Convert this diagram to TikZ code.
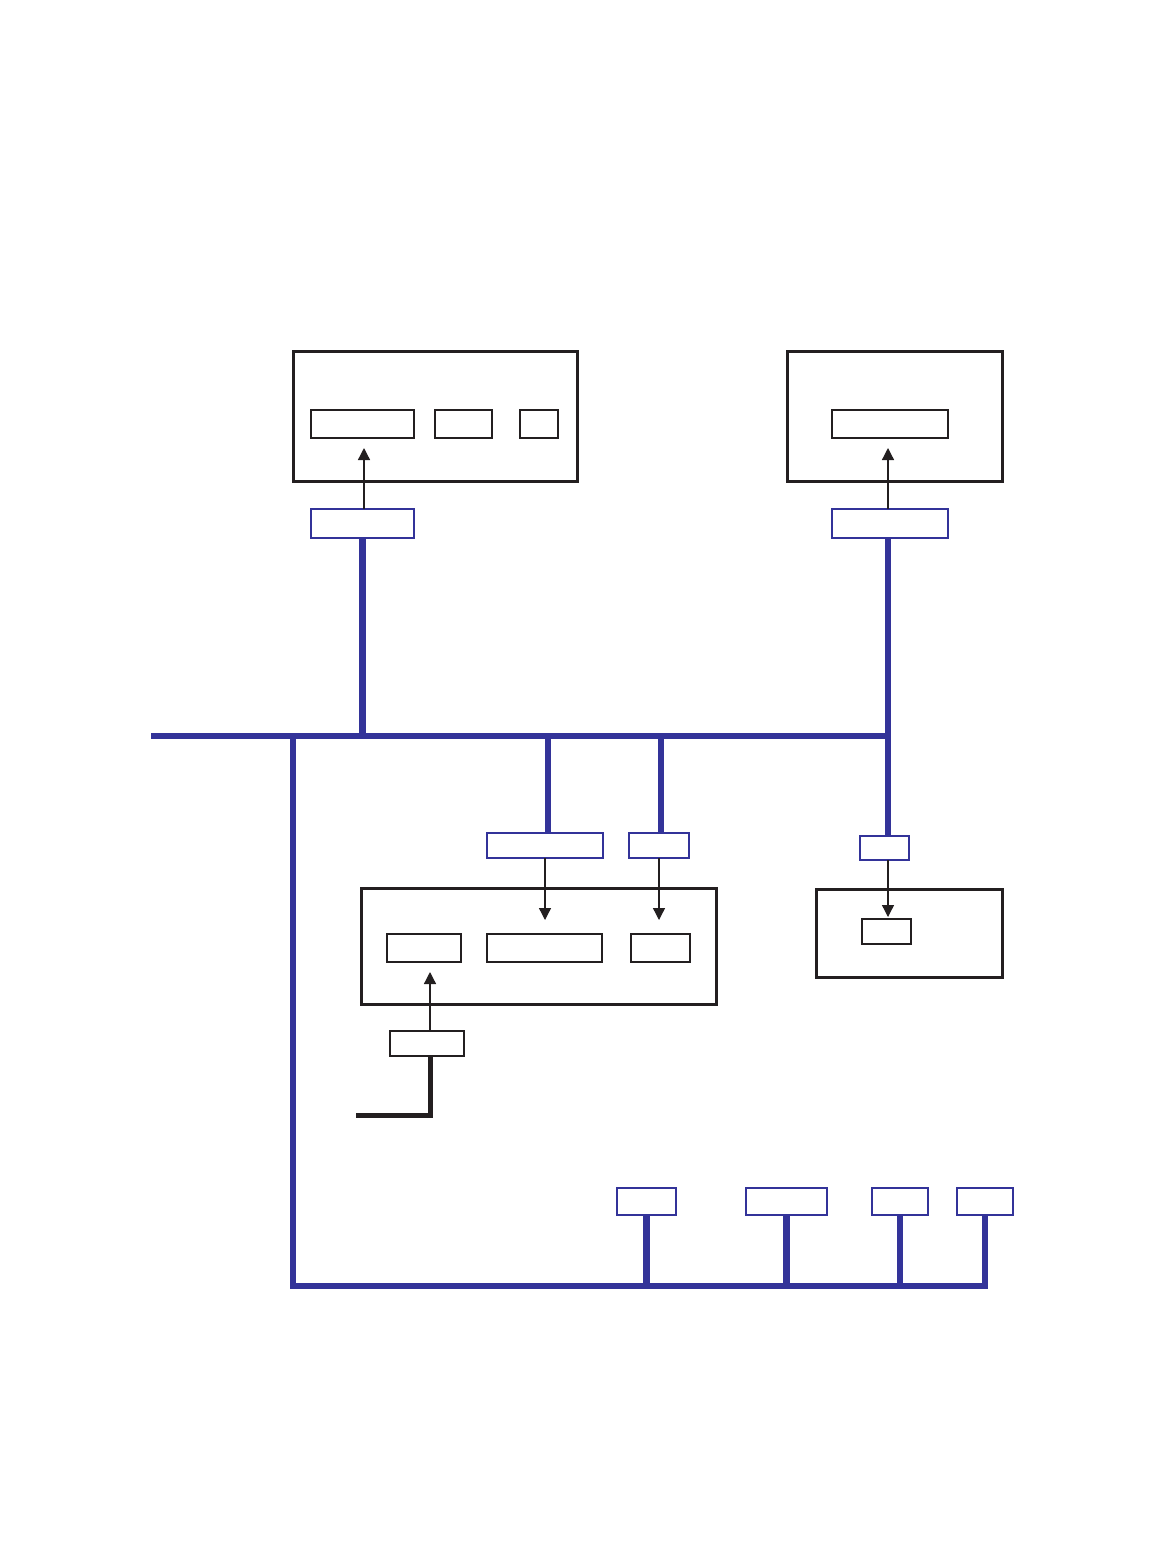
\documentclass[tikz,border=0pt]{standalone}
\usetikzlibrary{arrows.meta}
\definecolor{netblue}{HTML}{333399}
\definecolor{netink}{HTML}{231F20}

\begin{document}
\begin{tikzpicture}[
  x=1pt,
  y=-1pt,
  >={Triangle[width=12pt,length=12pt]},
  unit/.style={draw=netink, line width=3pt, inner sep=0pt, outer sep=0pt, line join=miter},
  slot/.style={draw=netink, line width=2pt, inner sep=0pt, outer sep=0pt},
  tap/.style={draw=netblue, line width=1.7pt, inner sep=0pt, outer sep=0pt},
  plug/.style={draw=netink, line width=1.7pt, inner sep=0pt, outer sep=0pt},
  bus/.style={netblue, line width=6.5pt, line join=miter},
  cable/.style={netink, line width=5pt, line join=miter},
  feed/.style={netink, line width=1.3pt, ->}
]
  \useasboundingbox (0,0) rectangle (1158,1559);

  % upper left unit
  \node[unit, minimum width=284pt, minimum height=130pt] (unitA) at (435,416) {};
  \node[slot, minimum width=103pt, minimum height=28pt] (slotA1) at (362.5,424) {};
  \node[slot, minimum width=57pt, minimum height=28pt] (slotA2) at (463.5,424) {};
  \node[slot, minimum width=38pt, minimum height=28pt] (slotA3) at (539,424) {};
  \node[tap, minimum width=103pt, minimum height=29pt] (tapA) at (362.5,523.5) {};

  % upper right unit
  \node[unit, minimum width=215pt, minimum height=130pt] (unitB) at (894.5,416) {};
  \node[slot, minimum width=116pt, minimum height=28pt] (slotB) at (890,424) {};
  \node[tap, minimum width=116pt, minimum height=29pt] (tapB) at (890,523.5) {};

  % middle unit
  \node[unit, minimum width=355pt, minimum height=116pt] (unitC) at (538.5,946) {};
  \node[slot, minimum width=74pt, minimum height=28pt] (slotC1) at (424,948) {};
  \node[slot, minimum width=115pt, minimum height=28pt] (slotC2) at (544.5,948) {};
  \node[slot, minimum width=59pt, minimum height=28pt] (slotC3) at (660.5,948) {};
  \node[tap, minimum width=116pt, minimum height=25pt] (tapC1) at (545,845.5) {};
  \node[tap, minimum width=60pt, minimum height=25pt] (tapC2) at (659,845.5) {};
  \node[plug, minimum width=74pt, minimum height=25pt] (plugC) at (427,1043.5) {};

  % small unit on the right
  \node[unit, minimum width=186pt, minimum height=88pt] (unitD) at (909,933) {};
  \node[slot, minimum width=49pt, minimum height=25pt] (slotD) at (886.5,931.5) {};
  \node[tap, minimum width=49pt, minimum height=24pt] (tapD) at (884.5,848) {};

  % taps on the lower line
  \node[tap, minimum width=59pt, minimum height=27pt] (tapE1) at (646.5,1201.5) {};
  \node[tap, minimum width=81pt, minimum height=27pt] (tapE2) at (786.5,1201.5) {};
  \node[tap, minimum width=56pt, minimum height=27pt] (tapE3) at (900,1201.5) {};
  \node[tap, minimum width=56pt, minimum height=27pt] (tapE4) at (985,1201.5) {};

  \coordinate (busW) at (151,736);
  \coordinate (trunk) at (293,736);
  \coordinate (trunkEnd) at (293,1286);
  \coordinate (cableEnd) at (356,1115);

  % blue lines
  \draw[bus] (busW) -- ([xshift=-2pt]tapB.south |- busW);
  \draw[bus] (tapA.south) -- (tapA.south |- busW);
  \draw[bus] ([xshift=-2pt]tapB.south) -- ([xshift=-2pt]tapB.south |- tapD.north);
  \draw[bus] ([xshift=3pt]tapC1.north |- busW) -- ([xshift=3pt]tapC1.north);
  \draw[bus] ([xshift=2pt]tapC2.north |- busW) -- ([xshift=2pt]tapC2.north);
  \draw[bus] (trunk) -- (trunkEnd) -- (tapE4.south |- trunkEnd) -- (tapE4.south);
  \draw[bus] (tapE1.south) -- (tapE1.south |- trunkEnd);
  \draw[bus] (tapE2.south) -- (tapE2.south |- trunkEnd);
  \draw[bus] (tapE3.south) -- (tapE3.south |- trunkEnd);

  % black cable
  \draw[cable] ([xshift=3pt]plugC.south) |- (cableEnd);

  % arrows into the units
  \draw[feed, shorten >=10pt] ([xshift=1.5pt]tapA.north) -- ([xshift=1.5pt]tapA.north |- slotA1.south);
  \draw[feed, shorten >=10pt] ([xshift=-2pt]tapB.north) -- ([xshift=-2pt]tapB.north |- slotB.south);
  \draw[feed, shorten >=14pt] (tapC1.south) -- (tapC1.south |- slotC2.north);
  \draw[feed, shorten >=14pt] (tapC2.south) -- (tapC2.south |- slotC3.north);
  \draw[feed, shorten >=10pt] ([xshift=3pt]plugC.north) -- ([xshift=3pt]plugC.north |- slotC1.south);
  \draw[feed, shorten >=2pt] ([xshift=3.5pt]tapD.south) -- ([xshift=3.5pt]tapD.south |- slotD.north);
\end{tikzpicture}
\end{document}
